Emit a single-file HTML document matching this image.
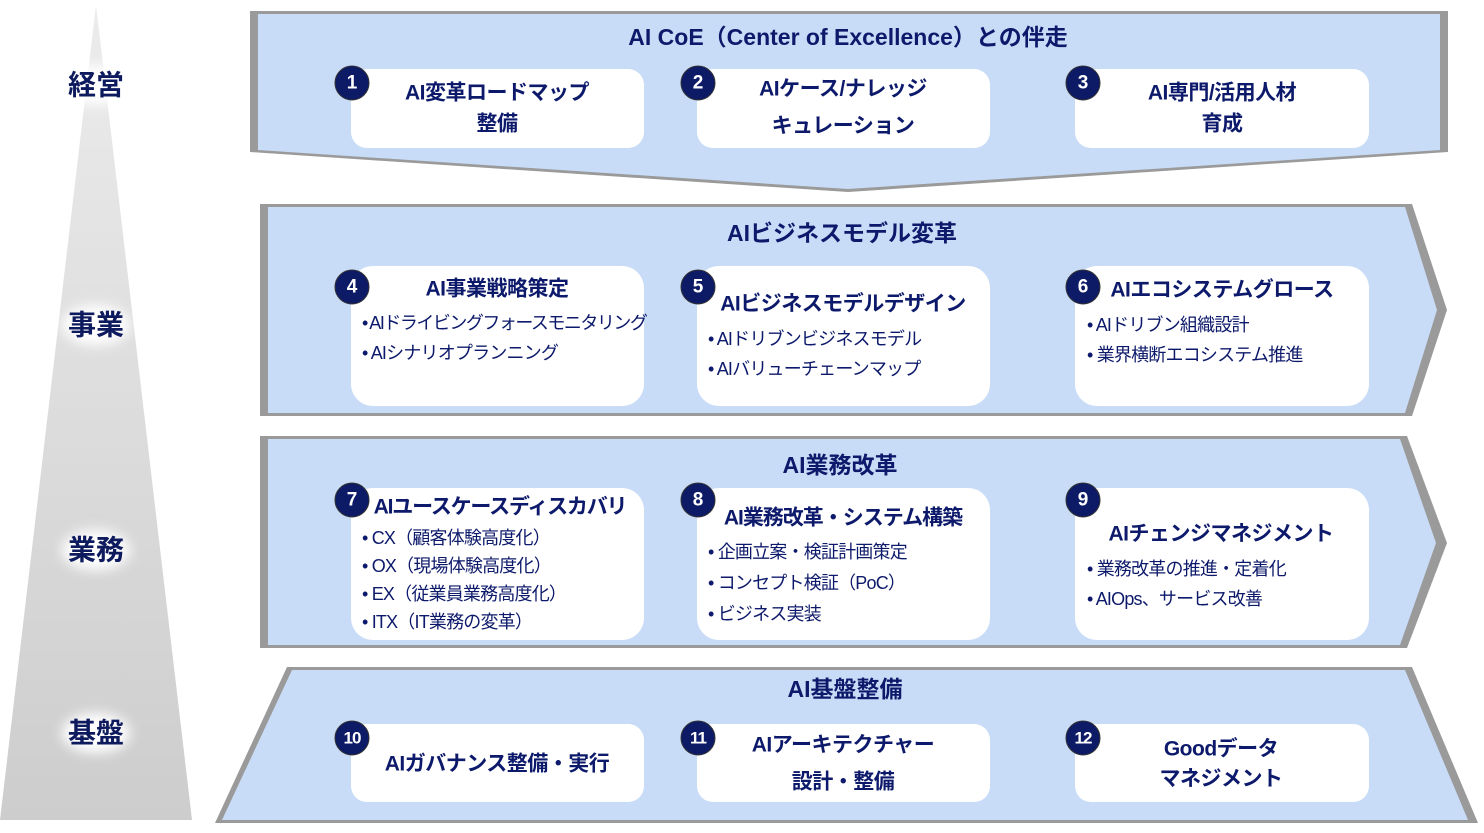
<!DOCTYPE html>
<html><head><meta charset="utf-8"><style>
html,body{margin:0;padding:0;background:#fff;}
svg text{font-family:"Liberation Sans","Noto Sans CJK JP",sans-serif;fill:#0d1a6b;dominant-baseline:central;}
.t{font-size:23px;font-weight:bold;text-anchor:middle;}
.h{font-size:21px;font-weight:bold;text-anchor:middle;letter-spacing:-0.5px;}
.b{font-size:18px;letter-spacing:-0.8px;}
.n{font-size:19px;font-weight:bold;fill:#fff;text-anchor:middle;}
.p{font-size:28px;font-weight:bold;text-anchor:middle;fill:#0d1a5e;}
</style></head><body>
<svg width="1484" height="828" viewBox="0 0 1484 828" xmlns="http://www.w3.org/2000/svg">
<defs>
<linearGradient id="pg" x1="0" y1="0" x2="0" y2="1"><stop offset="0" stop-color="#ececec"/><stop offset="1" stop-color="#cdcdcd"/></linearGradient>
<filter id="gl" x="-30%" y="-50%" width="160%" height="200%"><feGaussianBlur stdDeviation="6"/></filter>
</defs>
<polygon points="96,5 192,820 0,820" fill="url(#pg)"/>
<g fill="#fff" filter="url(#gl)">
<ellipse cx="96" cy="85" rx="34" ry="20"/><ellipse cx="96" cy="325" rx="34" ry="20"/>
<ellipse cx="96" cy="550" rx="34" ry="20"/><ellipse cx="96" cy="733" rx="34" ry="20"/></g>
<text class="p" x="96" y="85">経営</text><text class="p" x="96" y="325">事業</text>
<text class="p" x="96" y="550">業務</text><text class="p" x="96" y="733">基盤</text>

<g fill="#9a9a9a">
<polygon points="250,11 1448,11 1448,152 848,192 250,152"/>
<polygon points="260,204 1412,204 1447,310 1412,416 260,416"/>
<polygon points="260,436 1407,436 1447,543 1407,648 260,648"/>
<polygon points="287,667 1412,667 1478,823 215,823"/>
</g>
<g fill="#c9dcf7">
<polygon points="258,14 1440,14 1440,150 848,189 258,150"/>
<polygon points="268,207 1405,207 1437,310 1405,413 268,413"/>
<polygon points="268,439 1400,439 1436,543 1400,645 268,645"/>
<polygon points="292,670 1405,670 1468,820 222,820"/>
</g>

<g fill="#fff">
<rect x="351" y="69" width="293" height="79" rx="16"/><rect x="697" y="69" width="293" height="79" rx="16"/><rect x="1075" y="69" width="294" height="79" rx="16"/>
<rect x="351" y="266" width="293" height="140" rx="22"/><rect x="697" y="266" width="293" height="140" rx="22"/><rect x="1075" y="266" width="294" height="140" rx="22"/>
<rect x="351" y="488" width="293" height="152" rx="22"/><rect x="697" y="488" width="293" height="152" rx="22"/><rect x="1075" y="488" width="294" height="152" rx="22"/>
<rect x="351" y="724" width="293" height="78" rx="16"/><rect x="697" y="724" width="293" height="78" rx="16"/><rect x="1075" y="724" width="294" height="78" rx="16"/>
</g>

<g fill="#0d1a66" stroke="#333" stroke-width="1">
<circle cx="352" cy="83" r="17"/><circle cx="698" cy="83" r="17"/><circle cx="1083" cy="83" r="17"/>
<circle cx="352" cy="287" r="17"/><circle cx="698" cy="287" r="17"/><circle cx="1083" cy="287" r="17"/>
<circle cx="352" cy="500" r="17"/><circle cx="698" cy="500" r="17"/><circle cx="1083" cy="500" r="17"/>
<circle cx="352" cy="738" r="17"/><circle cx="698" cy="738" r="17"/><circle cx="1083" cy="738" r="17"/>
</g>
<text class="n" x="352" y="83">1</text><text class="n" x="698" y="83">2</text><text class="n" x="1083" y="83">3</text>
<text class="n" x="352" y="287">4</text><text class="n" x="698" y="287">5</text><text class="n" x="1083" y="287">6</text>
<text class="n" x="352" y="500">7</text><text class="n" x="698" y="500">8</text><text class="n" x="1083" y="500">9</text>
<text class="n" x="352" y="738" style="font-size:17px;letter-spacing:-1px">10</text><text class="n" x="698" y="738" style="font-size:17px;letter-spacing:-1px">11</text><text class="n" x="1083" y="738" style="font-size:17px;letter-spacing:-1px">12</text>

<text class="t" x="848" y="37">AI CoE（Center of Excellence）との伴走</text>
<text class="h" x="497" y="93">AI変革ロードマップ</text><text class="h" x="497" y="124">整備</text>
<text class="h" x="843" y="89">AIケース/ナレッジ</text><text class="h" x="843" y="126">キュレーション</text>
<text class="h" x="1222" y="93">AI専門/活用人材</text><text class="h" x="1222" y="124">育成</text>

<text class="t" x="842" y="233">AIビジネスモデル変革</text>
<text class="h" x="497" y="289">AI事業戦略策定</text>
<text class="b" x="362" y="323" style="letter-spacing:-1.5px">• AIドライビングフォースモニタリング</text>
<text class="b" x="362" y="353">• AIシナリオプランニング</text>
<text class="h" x="843" y="304">AIビジネスモデルデザイン</text>
<text class="b" x="708" y="339">• AIドリブンビジネスモデル</text>
<text class="b" x="708" y="369">• AIバリューチェーンマップ</text>
<text class="h" x="1222" y="290">AIエコシステムグロース</text>
<text class="b" x="1087" y="325">• AIドリブン組織設計</text>
<text class="b" x="1087" y="355">• 業界横断エコシステム推進</text>

<text class="t" x="840" y="465">AI業務改革</text>
<text class="h" x="500" y="507" style="letter-spacing:-1.2px">AIユースケースディスカバリ</text>
<text class="b" x="362" y="538">• CX（顧客体験高度化）</text>
<text class="b" x="362" y="566">• OX（現場体験高度化）</text>
<text class="b" x="362" y="594">• EX（従業員業務高度化）</text>
<text class="b" x="362" y="622">• ITX（IT業務の変革）</text>
<text class="h" x="843" y="518" style="letter-spacing:-1px">AI業務改革・システム構築</text>
<text class="b" x="708" y="552">• 企画立案・検証計画策定</text>
<text class="b" x="708" y="583">• コンセプト検証（PoC）</text>
<text class="b" x="708" y="614">• ビジネス実装</text>
<text class="h" x="1221" y="534">AIチェンジマネジメント</text>
<text class="b" x="1087" y="569">• 業務改革の推進・定着化</text>
<text class="b" x="1087" y="599">• AIOps、サービス改善</text>

<text class="t" x="845" y="689">AI基盤整備</text>
<text class="h" x="497" y="764">AIガバナンス整備・実行</text>
<text class="h" x="843" y="745">AIアーキテクチャー</text><text class="h" x="843" y="782">設計・整備</text>
<text class="h" x="1221" y="749">Goodデータ</text><text class="h" x="1221" y="779">マネジメント</text>
</svg>
</body></html>
